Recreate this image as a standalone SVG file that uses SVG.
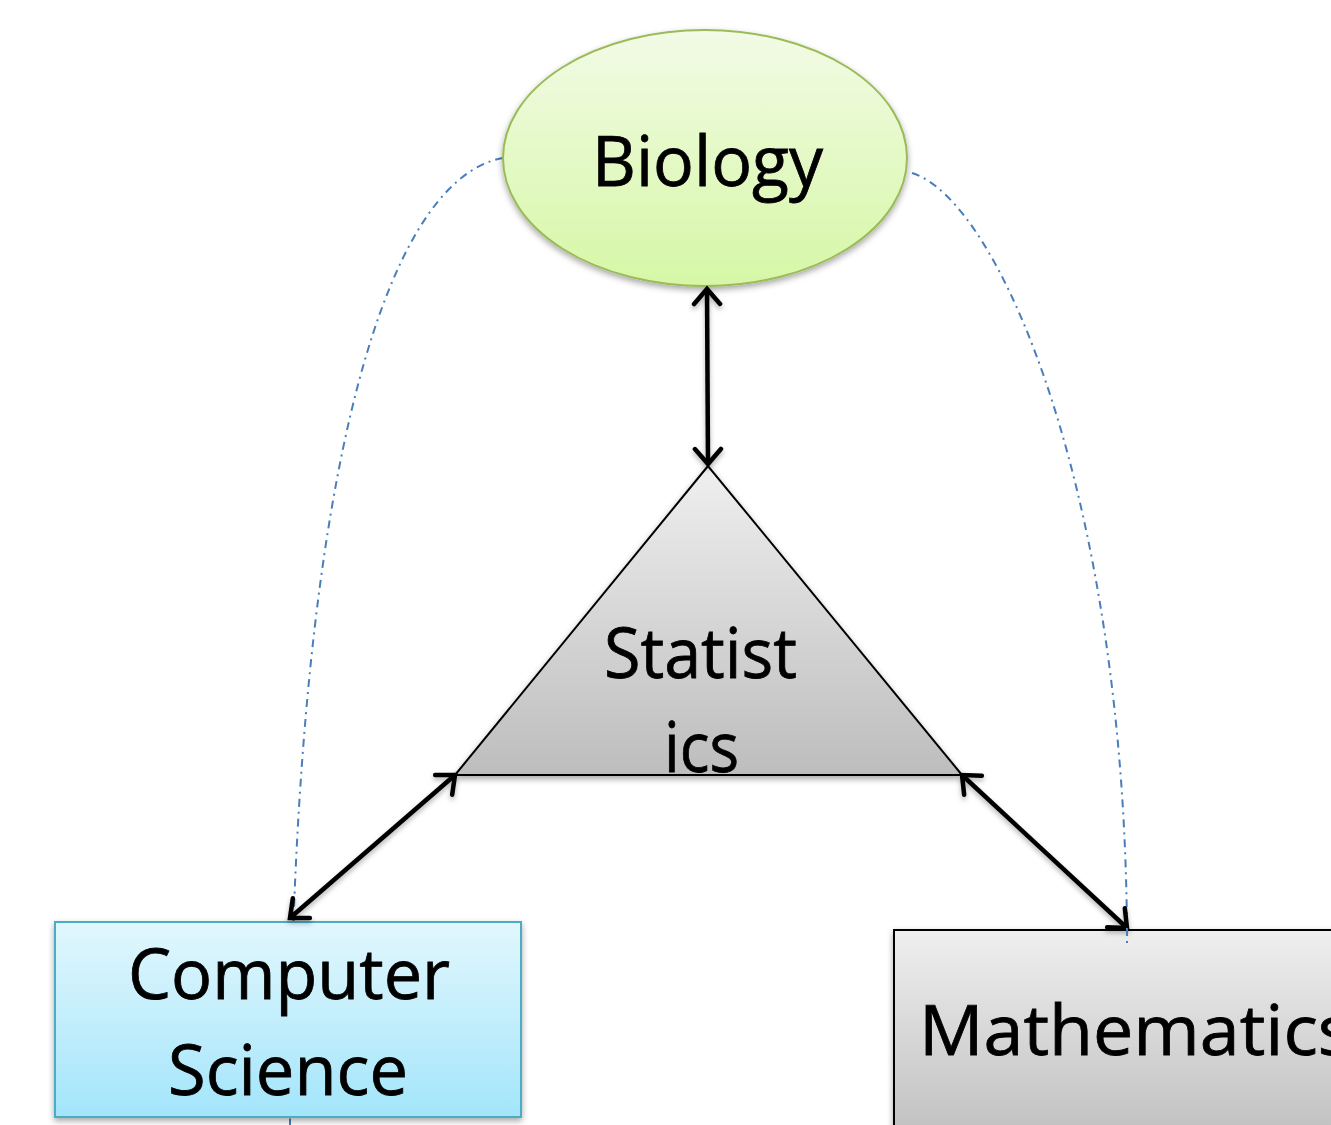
<svg xmlns="http://www.w3.org/2000/svg" width="1331" height="1125" viewBox="0 0 1331 1125">
<style>
.lbl{font-family:"Open Sans","Noto Sans","Liberation Sans",sans-serif;font-size:70px;fill:#000;stroke:#000;stroke-width:0.8;}
.arr{stroke:#000;stroke-width:4.5;fill:none;marker-start:url(#head);marker-end:url(#head);}
.dd{stroke:#4a7ebb;stroke-width:2;fill:none;stroke-dasharray:8 5 2 5;}
</style>
<defs>
<linearGradient id="gBio" x1="0" y1="0" x2="0" y2="1"><stop offset="0" stop-color="#f2fbe6"/><stop offset="1" stop-color="#d6f7a6"/></linearGradient>
<linearGradient id="gGray" x1="0" y1="0" x2="0" y2="1"><stop offset="0" stop-color="#efefef"/><stop offset="1" stop-color="#bdbdbd"/></linearGradient>
<linearGradient id="gCS" x1="0" y1="0" x2="0" y2="1"><stop offset="0" stop-color="#e2f7fd"/><stop offset="1" stop-color="#a3e5fb"/></linearGradient>
<filter id="sh" x="-10%" y="-10%" width="120%" height="130%"><feDropShadow dx="0" dy="3" stdDeviation="3" flood-color="#000" flood-opacity="0.35"/></filter>
<filter id="shL" filterUnits="userSpaceOnUse" x="0" y="0" width="1331" height="1125"><feDropShadow dx="0" dy="3" stdDeviation="2.5" flood-color="#000" flood-opacity="0.3"/></filter>
<marker id="head" viewBox="-20 -16 24 32" markerWidth="24" markerHeight="32" refX="0" refY="0" orient="auto-start-reverse" markerUnits="userSpaceOnUse">
<path d="M-15,-13 L0,0 L-15,13" fill="none" stroke="#000" stroke-width="4.5" stroke-linecap="round" stroke-linejoin="miter"/>
</marker>
</defs>
<g id="connectors">
<path class="dd" d="M503,158 C380,180 290,500 290,1125"/>
<path class="dd" d="M912,173 C1000,200 1127,500 1127,945"/>
</g>
<g id="biology">
<ellipse cx="705" cy="158" rx="202" ry="128" fill="url(#gBio)" stroke="#9bbb59" stroke-width="2" filter="url(#sh)"/>
<text class="lbl" x="592" y="186" textLength="231" lengthAdjust="spacingAndGlyphs">Biology</text>
</g>
<g id="statistics">
<polygon points="708,466 455,775 962,775" fill="url(#gGray)" stroke="#000" stroke-width="2" filter="url(#sh)"/>
<text class="lbl" x="604" y="678" textLength="193" lengthAdjust="spacingAndGlyphs">Statist</text>
<text class="lbl" x="664" y="772" textLength="75" lengthAdjust="spacingAndGlyphs">ics</text>
</g>
<g id="computer-science">
<rect x="55" y="922" width="466" height="195" fill="url(#gCS)" stroke="#4bacc6" stroke-width="2" filter="url(#sh)"/>
<text class="lbl" x="128" y="999" textLength="322" lengthAdjust="spacingAndGlyphs">Computer</text>
<text class="lbl" x="168" y="1095" textLength="240" lengthAdjust="spacingAndGlyphs">Science</text>
</g>
<g id="mathematics">
<rect x="894" y="930" width="460" height="220" fill="url(#gGray)" stroke="#000" stroke-width="2" filter="url(#sh)"/>
<text class="lbl" x="919" y="1055" textLength="433" lengthAdjust="spacingAndGlyphs">Mathematics</text>
</g>
<g id="arrows" filter="url(#shL)">
<line class="arr" x1="707" y1="289" x2="708" y2="464"/>
<line class="arr" x1="455" y1="775" x2="290" y2="918"/>
<line class="arr" x1="962" y1="775" x2="1127" y2="928"/>
</g>
<path class="dd" d="M1127,928 L1127,945"/>
</svg>
